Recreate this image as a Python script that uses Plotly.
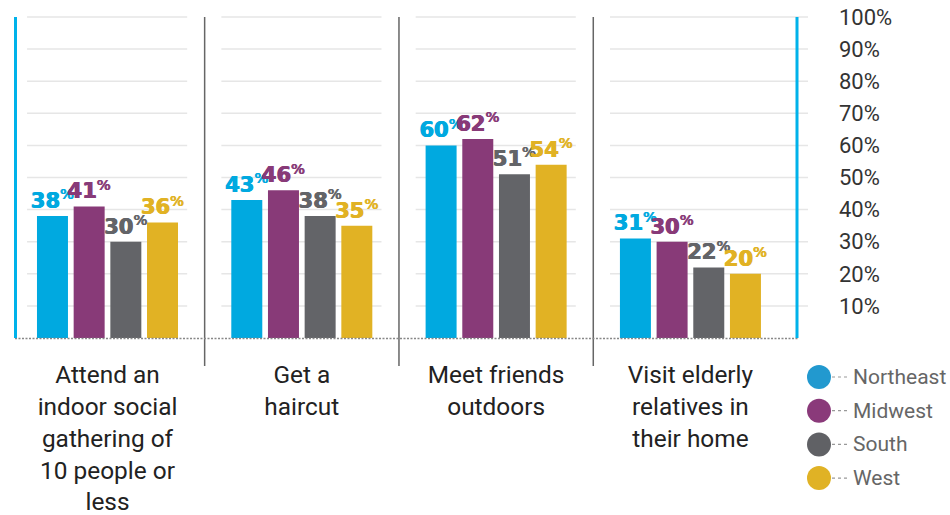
import plotly.graph_objects as go

# ---- data -------------------------------------------------------------
categories = [
    "Attend an<br>indoor social<br>gathering of<br>10 people or<br>less",
    "Get a<br>haircut",
    "Meet friends<br>outdoors",
    "Visit elderly<br>relatives in<br>their home",
]
regions = ["Northeast", "Midwest", "South", "West"]
northeast = [38, 43, 60, 31]
midwest = [41, 46, 62, 30]
south = [30, 38, 51, 22]
west = [36, 35, 54, 20]
y_ticks = [10, 20, 30, 40, 50, 60, 70, 80, 90, 100]
y_tick_labels = [f"{t}%" for t in y_ticks]

# ---- styling ----------------------------------------------------------
bar_colors = ["#00A9E0", "#883A78", "#636468", "#E1B224"]
dot_colors = ["#2299CF", "#8A3A7A", "#606165", "#E0B225"]
accent_blue = "#00B2EA"
W, H = 950, 515

# plot box in pixels
PL, PR, PT, PB = 15, 808, 13.8, 338


def px(x):
    return x / W


def py(y):
    return 1 - y / H


series = [northeast, midwest, south, west]

fig = go.Figure()
for name, vals, col in zip(regions, series, bar_colors):
    fig.add_trace(go.Bar(
        x=categories, y=vals, name=name,
        marker=dict(color=col, line=dict(width=0)),
        text=[f"{v}<sup><span style='font-weight:normal'>%</span></sup>" for v in vals],
        textposition="outside",
        outsidetextfont=dict(family="DejaVu Sans", size=21, color=col, weight="bold",
                             shadow=f"0.5px 0 0 {col}, -0.5px 0 0 {col}"),
        constraintext="none",
        cliponaxis=False,
        showlegend=False,
        hoverinfo="skip",
    ))

shapes = []
# per-group horizontal guides
n = len(categories)
for i in range(n):
    x0 = i - 0.414
    x1 = i + 0.41 if i < n - 1 else 3.605
    for t in y_ticks:
        shapes.append(dict(type="line", xref="x", yref="y", x0=x0, x1=x1, y0=t, y1=t,
                           line=dict(color="#E6E6E6", width=1.5), layer="below"))
# group separators
for i in range(n - 1):
    shapes.append(dict(type="line", xref="x", yref="paper", x0=i + 0.5, x1=i + 0.5,
                       y0=py(366), y1=py(17), line=dict(color="#666666", width=1.5)))
# dotted baseline
shapes.append(dict(type="line", xref="paper", yref="paper", x0=px(15), x1=px(798),
                   y0=py(338.5), y1=py(338.5),
                   line=dict(color="#888888", width=1.5, dash="2px,1.5px")))
# blue frame lines
for xp in (15.5, 797):
    shapes.append(dict(type="line", xref="paper", yref="paper", x0=px(xp), x1=px(xp),
                       y0=py(338), y1=py(17), line=dict(color=accent_blue, width=3)))

# legend (circle, dotted connector, label)
leg_x = 819
leg_y = [377 + 33.7 * i for i in range(len(regions))]
fig.add_trace(go.Scatter(
    x=[leg_x] * len(regions), y=leg_y, xaxis="x2", yaxis="y2", mode="markers",
    marker=dict(size=24, color=dot_colors, line=dict(width=0)),
    showlegend=False, hoverinfo="skip", cliponaxis=False,
))
annotations = []
for name, yy in zip(regions, leg_y):
    shapes.append(dict(type="line", xref="x2", yref="y2", x0=832, x1=849, y0=yy, y1=yy,
                       line=dict(color="#999999", width=1.2, dash="dot")))
    annotations.append(dict(xref="x2", yref="y2", x=851, y=yy, text=name, showarrow=False,
                            xanchor="left", yanchor="middle",
                            font=dict(family="Roboto", size=21, color="#666666")))

fig.update_layout(
    width=W, height=H,
    margin=dict(l=0, r=0, t=0, b=0, pad=0, autoexpand=False),
    paper_bgcolor="white", plot_bgcolor="rgba(0,0,0,0)",
    barmode="group", bargap=0.245, bargroupgap=0.155,
    shapes=shapes, annotations=annotations,
    xaxis=dict(domain=[px(PL), px(PR)], range=[-0.476, 3.605], showgrid=False,
               zeroline=False, showline=False, ticks="", fixedrange=True,
               automargin=False,
               tickfont=dict(family="Roboto", size=24.4, color="#222222"),
               ticklabelstandoff=20),
    yaxis=dict(domain=[py(PB), py(PT)], range=[0, 101], side="right",
               tickvals=y_ticks, ticktext=y_tick_labels, showgrid=False,
               zeroline=False, showline=False, ticks="", fixedrange=True,
               automargin=False,
               tickfont=dict(family="Roboto", size=22, color="#333333"),
               ticklabelstandoff=30),
    xaxis2=dict(domain=[0, 1], range=[0, W], anchor="y2", visible=False, fixedrange=True),
    yaxis2=dict(domain=[0, 1], range=[H, 0], anchor="x2", visible=False, fixedrange=True),
    showlegend=False,
)

fig.write_html("out.html")
